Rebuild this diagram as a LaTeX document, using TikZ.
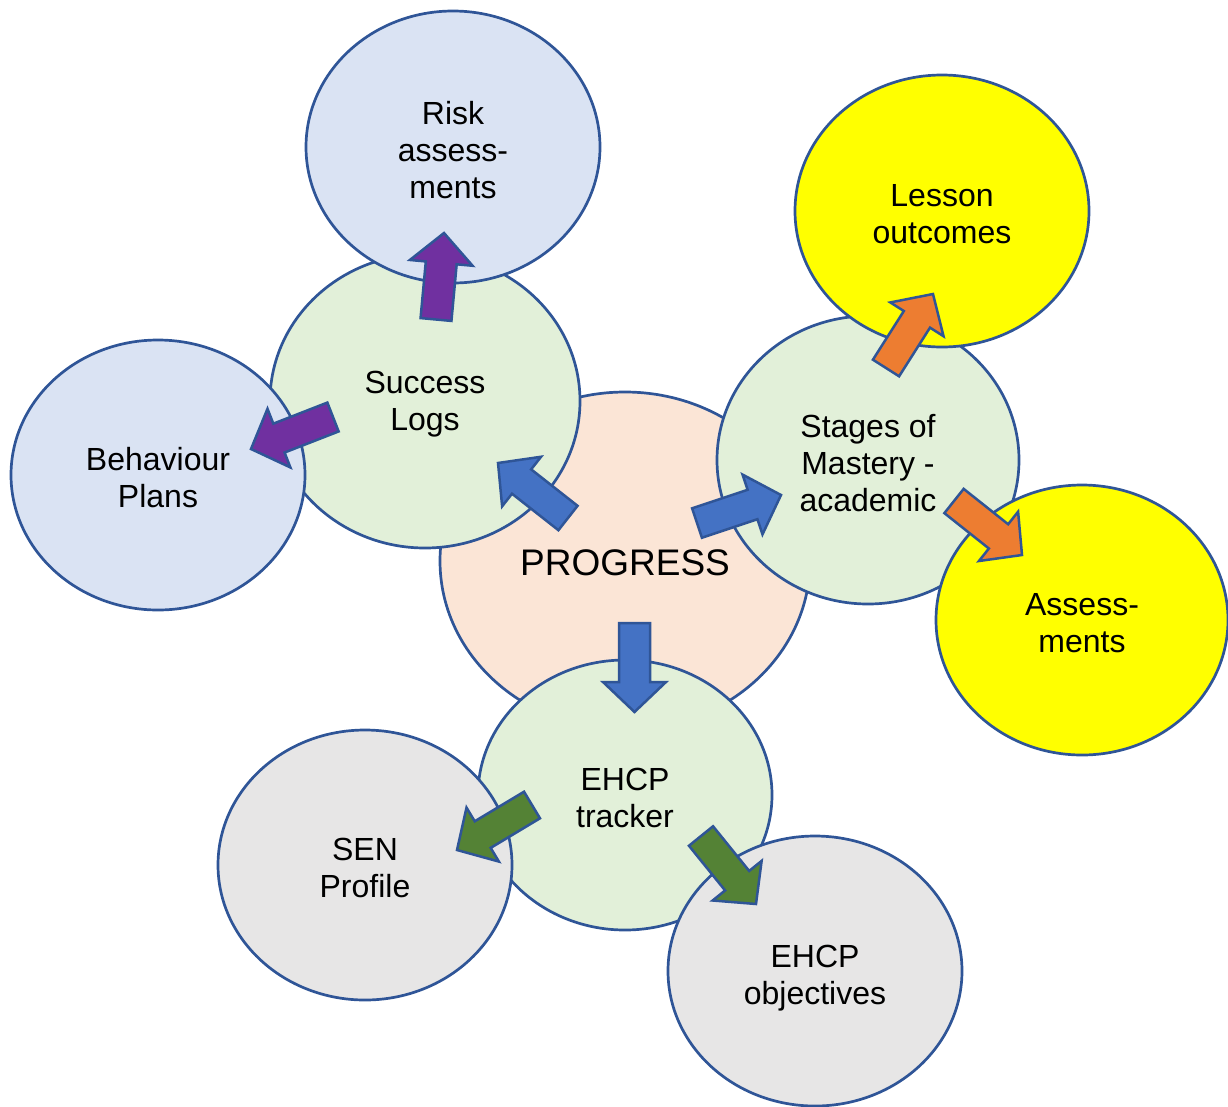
\documentclass[tikz,border=0pt]{standalone}
\usepackage{fontspec}
\setmainfont{Liberation Sans}
\usetikzlibrary{calc,shapes.geometric}

\definecolor{rim}{HTML}{2F5597}
\definecolor{peach}{HTML}{FBE5D6}
\definecolor{mint}{HTML}{E2F0D9}
\definecolor{sky}{HTML}{DAE3F3}
\definecolor{lemon}{HTML}{FFFF00}
\definecolor{stone}{HTML}{E7E6E6}
\definecolor{arrblue}{HTML}{4472C4}
\definecolor{arrpurple}{HTML}{7030A0}
\definecolor{arrorange}{HTML}{ED7D31}
\definecolor{arrgreen}{HTML}{548235}

\tikzset{
  bubble/.style={ellipse, draw=rim, line width=2.7pt, inner sep=0pt},
  caption/.style={label={[align=center, inner sep=0pt, yshift=-3pt,
      font=\fontsize{32}{37}\selectfont]center:#1}},
  blockarr/.style={draw=rim, line width=2.5pt, line join=miter, fill=#1},
}

% block arrow from tail midpoint #2 to tip #3
\newcommand\blockarrow[3]{%
  \coordinate (#2-neck) at ($(#3)!30pt!(#2)$);
  \draw[blockarr=#1]
    ($(#2)!15.5pt!90:(#3)$) -- ($(#2-neck)!15.5pt!90:(#3)$)
    -- ($(#2-neck)!31.5pt!90:(#3)$) -- (#3)
    -- ($(#2-neck)!31.5pt!-90:(#3)$) -- ($(#2-neck)!15.5pt!-90:(#3)$)
    -- ($(#2)!15.5pt!-90:(#3)$) -- cycle;
}

\begin{document}
\begin{tikzpicture}[x=1pt,y=-1pt]
\useasboundingbox (0,0) rectangle (1228,1106);

% central bubble and its three satellites
\node[bubble, fill=peach, minimum width=370pt, minimum height=338pt,
      label={[inner sep=0pt, yshift=-2pt, font=\fontsize{37}{42}\selectfont]center:PROGRESS}]
      (progress) at (625,561) {};
\node[bubble, fill=mint, minimum width=310pt, minimum height=294pt,
      caption={Success\\Logs}] (success) at (425,401) {};
\node[bubble, fill=mint, minimum width=302pt, minimum height=288pt,
      caption={Stages of\\Mastery -\\academic}] (stages) at (868,460) {};
\node[bubble, fill=mint, minimum width=294pt, minimum height=270pt,
      caption={EHCP\\tracker}] (tracker) at (625,795) {};

% outer bubbles
\node[bubble, fill=sky, minimum width=294pt, minimum height=272pt,
      caption={Risk\\assess-\\ments}] (risk) at (453,147) {};
\node[bubble, fill=sky, minimum width=294pt, minimum height=270pt,
      caption={Behaviour\\Plans}] (behaviour) at (158,475) {};
\node[bubble, fill=lemon, minimum width=294pt, minimum height=272pt,
      caption={Lesson\\outcomes}] (lesson) at (942,211) {};
\node[bubble, fill=lemon, minimum width=292pt, minimum height=270pt,
      caption={Assess-\\ments}] (assess) at (1082,620) {};
\node[bubble, fill=stone, minimum width=294pt, minimum height=270pt,
      caption={SEN\\Profile}] (sen) at (365,865) {};
\node[bubble, fill=stone, minimum width=294pt, minimum height=270pt,
      label={[align=center, inner sep=0pt, yshift=-7.5pt,
      font=\fontsize{32}{37}\selectfont]center:EHCP\\objectives}]
      (objectives) at (815,971) {};

% arrow tails and tips
\coordinate (pS) at (568,518);   \coordinate (pSt) at (498,463);
\coordinate (pM) at (697,523);   \coordinate (pMt) at (781,495);
\coordinate (pE) at (634.5,623); \coordinate (pEt) at (634.5,712);
\coordinate (sR) at (436,319.5); \coordinate (sRt) at (444,233);
\coordinate (sB) at (333,417);   \coordinate (sBt) at (251,449);
\coordinate (mL) at (886,368);   \coordinate (mLt) at (933,294);
\coordinate (mA) at (954,501);   \coordinate (mAt) at (1022,555);
\coordinate (tS) at (532,805);   \coordinate (tSt) at (457,850);
\coordinate (tO) at (701,836);   \coordinate (tOt) at (756,904);

\blockarrow{arrblue}{pS}{pSt}
\blockarrow{arrblue}{pM}{pMt}
\blockarrow{arrblue}{pE}{pEt}
\blockarrow{arrpurple}{sR}{sRt}
\blockarrow{arrpurple}{sB}{sBt}
\blockarrow{arrorange}{mL}{mLt}
\blockarrow{arrorange}{mA}{mAt}
\blockarrow{arrgreen}{tS}{tSt}
\blockarrow{arrgreen}{tO}{tOt}
\end{tikzpicture}
\end{document}
